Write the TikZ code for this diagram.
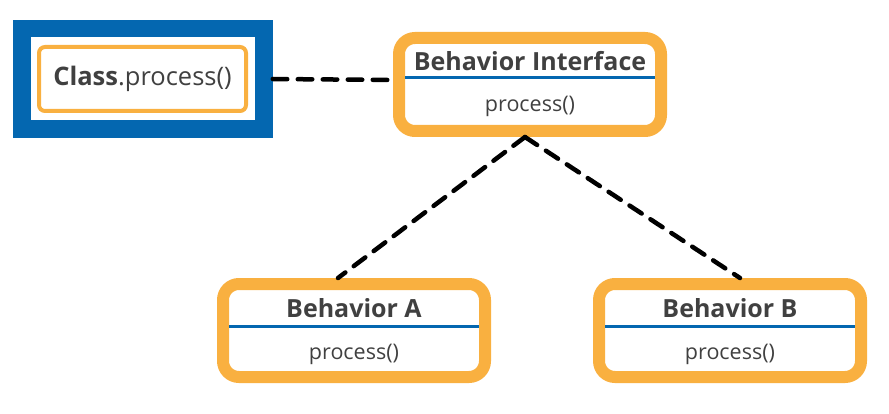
\documentclass[tikz,border=0pt]{standalone}
\usepackage{fontspec}
\setmainfont{Open Sans}
\usetikzlibrary{positioning,calc}
\definecolor{orangebox}{RGB}{249,176,64}
\definecolor{blueline}{RGB}{4,103,176}
\definecolor{graytext}{RGB}{64,64,64}

\begin{document}
\begin{tikzpicture}[x=1pt,y=-1pt,
  myclass/.style={draw=blueline,line width=17.5pt,fill=white,minimum width=242pt,minimum height=100.5pt,inner sep=0pt},
  myinner/.style={draw=orangebox,line width=4pt,rounded corners=6pt,minimum width=207pt,minimum height=64pt,text=graytext,font=\fontsize{25.5}{30}\selectfont},
  mybox/.style={draw=orangebox,line width=12pt,rounded corners=16pt,minimum width=262pt,minimum height=93pt,inner sep=0pt},
  mytitle/.style={text=graytext,font=\fontsize{25}{30}\selectfont\bfseries},
  mymethod/.style={text=graytext,font=\fontsize{21.5}{26}\selectfont},
  mysep/.style={draw=blueline,line width=3pt},
  mydash/.style={line width=4.5pt,line cap=round,dash pattern=on 14.5pt off 10.5pt},
 ]
\useasboundingbox (0,0) rectangle (889,414);

% client class
\node[myclass] (C) at (143,79) {};
\node[myinner] (CI) at (142.5,79) {\textbf{Class}.process()};

% boxes
\node[mybox] (I) at (530,84.5) {};
\node[mybox] (A) at (354,330.5) {};
\node[mybox] (B) at (730,330.5) {};

\node[mytitle] (It) at ($(I.center)+(0,-23)$) {Behavior Interface};
\node[mymethod] (Im) at ($(I.center)+(0,21.5)$) {process()};
\node[mytitle] (At) at ($(A.center)+(0,-22)$) {Behavior A};
\node[mymethod] (Am) at ($(A.center)+(0,23.5)$) {process()};
\node[mytitle] (Bt) at ($(B.center)+(0,-22)$) {Behavior B};
\node[mymethod] (Bm) at ($(B.center)+(0,23.5)$) {process()};

\draw[mysep] ($(I.west)+(12,-6.5)$) -- ($(I.east)+(-12,-6.5)$);
\draw[mysep] ($(A.west)+(12,-4.5)$) -- ($(A.east)+(-12,-4.5)$);
\draw[mysep] ($(B.west)+(12,-4.5)$) -- ($(B.east)+(-12,-4.5)$);

% links
\draw[mydash] (C.east) -- ($(I.west)+(0,-4.5)$);
\draw[mydash] ($(I.south)+(-5,0)$) -- ($(A.north)+(-16,0)$);
\draw[mydash] ($(I.south)+(-5,0)$) -- ($(B.north)+(10,0)$);

\end{tikzpicture}
\end{document}
